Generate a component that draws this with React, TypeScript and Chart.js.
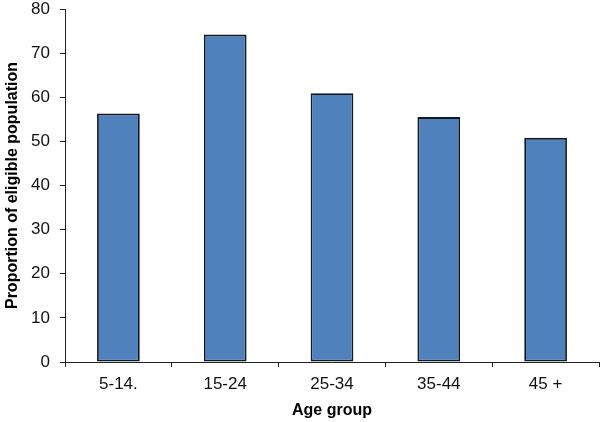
import React, { useEffect, useRef } from "react";
import { Chart, registerables } from "chart.js";

Chart.register(...registerables);

const categories = ["5-14.", "15-24", "25-34", "35-44", "45 +"];
const proportions = [56.3, 74.2, 60.9, 55.5, 50.8];
const yTicks = [0, 10, 20, 30, 40, 50, 60, 70, 80];

const FONT = "'Liberation Sans', Arial, Helvetica, sans-serif";

export default function App() {
  const ref = useRef<HTMLCanvasElement | null>(null);

  useEffect(() => {
    if (!ref.current) return;
    const chart = new Chart(ref.current, {
      type: "bar",
      data: {
        labels: categories,
        datasets: [
          {
            data: proportions,
            backgroundColor: "#4F81BD",
            borderColor: "#101820",
            borderWidth: 1.8,
            borderSkipped: false,
            categoryPercentage: 1,
            barPercentage: 0.4,
          },
        ],
      },
      options: {
        animation: false,
        responsive: false,
        maintainAspectRatio: false,
        layout: { autoPadding: false, padding: { top: 9, right: 1, left: 0, bottom: 0 } },
        plugins: {
          legend: { display: false },
          tooltip: { enabled: false },
          title: { display: false },
        },
        scales: {
          x: {
            offset: true,
            grid: {
              offset: true,
              drawOnChartArea: false,
              drawTicks: true,
              tickLength: 5,
              color: "#222",
            },
            border: { display: true, color: "#222", width: 1 },
            ticks: {
              color: "#111",
              padding: 7,
              font: { family: FONT, size: 17 },
            },
            title: {
              display: true,
              text: "Age group",
              color: "#000",
              font: { family: FONT, size: 16, weight: "bold" },
              padding: 2,
            },
            afterFit: (scale: any) => {
              scale.height = 60;
            },
          },
          y: {
            min: 0,
            max: 80,
            afterBuildTicks: (scale: any) => {
              scale.ticks = yTicks.map((v) => ({ value: v }));
            },
            grid: {
              drawOnChartArea: false,
              drawTicks: true,
              tickLength: 5,
              color: "#222",
            },
            border: { display: true, color: "#222", width: 1 },
            ticks: {
              color: "#111",
              padding: 10,
              font: { family: FONT, size: 17 },
            },
            title: {
              display: true,
              text: "Proportion of eligible population",
              color: "#000",
              font: { family: FONT, size: 16, weight: "bold" },
              padding: 3,
            },
            afterFit: (scale: any) => {
              scale.width = 65;
              scale.paddingTop = 0;
              scale.paddingBottom = 0;
            },
          },
        },
      },
    });
    return () => chart.destroy();
  }, []);

  return (
    <div
      style={{
        position: "fixed",
        left: 0,
        top: 0,
        width: 600,
        height: 422,
        background: "#fff",
      }}
    >
      <canvas ref={ref} width={600} height={422} style={{ width: 600, height: 422 }} />
    </div>
  );
}
